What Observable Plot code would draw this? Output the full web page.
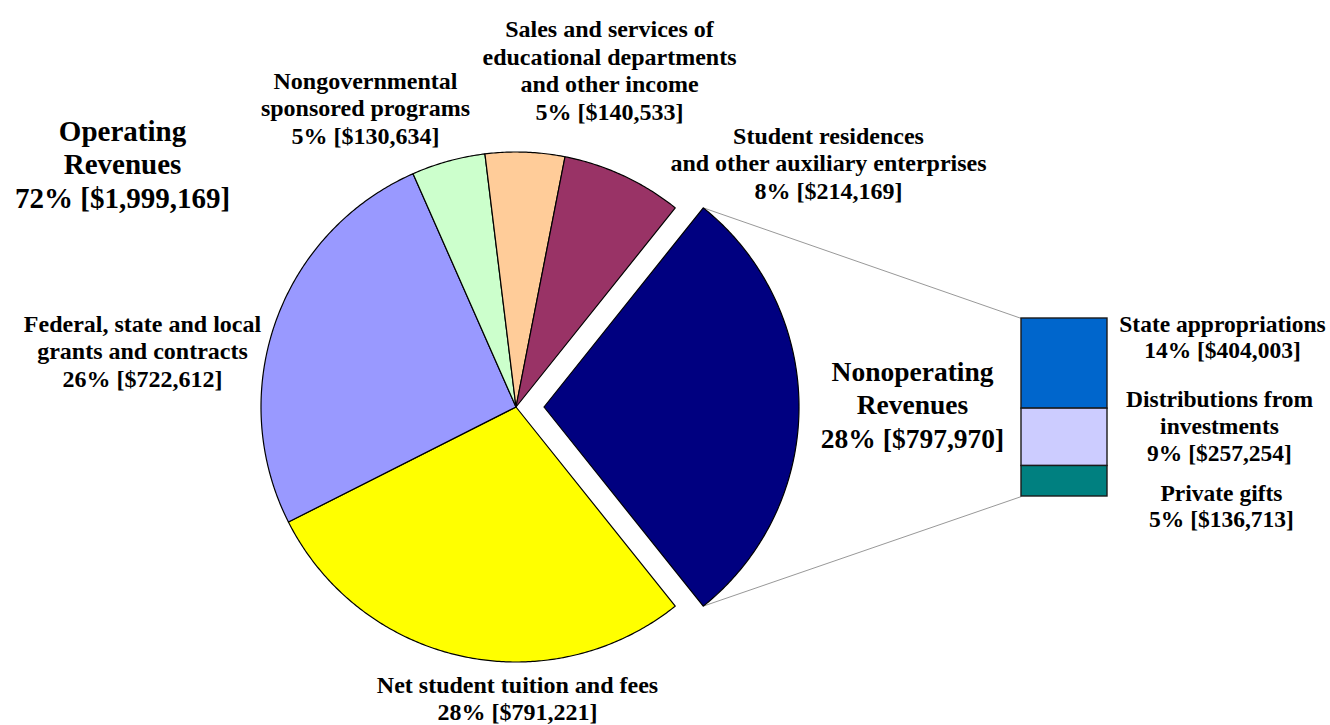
<!DOCTYPE html>
<html>
<head>
<meta charset="utf-8">
<script src="https://cdn.jsdelivr.net/npm/d3@7"></script>
<script src="https://cdn.jsdelivr.net/npm/@observablehq/plot@0.6"></script>
<style>
  html, body { margin: 0; padding: 0; background: #ffffff; }
  #chart svg text, #chart svg tspan { font-family: "Liberation Serif", "Times New Roman", Times, serif !important; }
</style>
</head>
<body>
<div id="chart"></div>
<script>
// ---------------- DATA ----------------
// Pie slices, clockwise starting with the exploded "Nonoperating" slice
const pieCategories = [
  "Nonoperating Revenues",
  "Net student tuition and fees",
  "Federal, state and local\ngrants and contracts",
  "Nongovernmental\nsponsored programs",
  "Sales and services of\neducational departments\nand other income",
  "Student residences\nand other auxiliary enterprises"
];
const pieValues = [797970, 791221, 722612, 130634, 140533, 214169];
const piePercents = [28, 28, 26, 5, 5, 8];

// Bar of pie: breakdown of Nonoperating Revenues
const barCategories = ["State appropriations", "Distributions from\ninvestments", "Private gifts"];
const barValues = [404003, 257254, 136713];
const barPercents = [14, 9, 5];

// Group headings
const groupNames = ["Operating\nRevenues", "Nonoperating\nRevenues"];
const groupPercents = [72, 28];

// ---------------- STYLES ----------------
const pieColors = ["#000080", "#FFFF00", "#9999FF", "#CCFFCC", "#FFCC99", "#993366"];
const barColors = ["#0066CC", "#CCCCFF", "#008080"];

// ---------------- LAYOUT ----------------
const W = 1330, H = 725;
const cx = 515.5, cy = 406.5, R = 255, explode = 28;
const barX1 = 1021, barX2 = 1107, barTop = 318, barH = 178;
const pieLabelPos = [null, [517, 697], [142, 350], [365, 107], [609, 69], [828, 162]];
const barLabelPos = [[1222, 336], [1219, 425], [1221, 505]];
const groupLabelPos = [[122, 163], [912, 403]];
const groupFontSize = [29, 27.5];

// ---------------- COMPUTE ----------------
const fmt = d3.format(",");
const nonopValue = pieValues[0];
const total = d3.sum(pieValues);
const nonopSpan = nonopValue / total * 2 * Math.PI;
const start = Math.PI / 2 - nonopSpan / 2;
const arcs = d3.pie().sort(null).startAngle(start).endAngle(start + 2 * Math.PI)(pieValues);

const step = Math.PI / 360;
const slices = arcs.map((a, i) => {
  const mid = (a.startAngle + a.endAngle) / 2;
  const off = i === 0 ? explode : 0;
  const ox = cx + off * Math.sin(mid), oy = cy - off * Math.cos(mid);
  const pts = [{x: ox, y: oy}];
  const n = Math.max(2, Math.ceil((a.endAngle - a.startAngle) / step));
  for (let k = 0; k <= n; k++) {
    const t = a.startAngle + (a.endAngle - a.startAngle) * k / n;
    pts.push({x: ox + R * Math.sin(t), y: oy - R * Math.cos(t)});
  }
  pts.push({x: ox, y: oy});
  return {pts, color: pieColors[i], ox, oy, a};
});

// stacked bar
const barTotal = d3.sum(barValues);
const cum = [0, ...d3.cumsum(barValues)];
const barRects = barValues.map((v, i) => ({
  y1: barTop + cum[i] / barTotal * barH,
  y2: barTop + cum[i + 1] / barTotal * barH,
  color: barColors[i]
}));

// connector lines from the exploded slice to the bar
const ex = slices[0];
const connectors = [
  {x1: ex.ox + R * Math.sin(ex.a.startAngle), y1: ex.oy - R * Math.cos(ex.a.startAngle), x2: barX1, y2: barTop},
  {x1: ex.ox + R * Math.sin(ex.a.endAngle), y1: ex.oy - R * Math.cos(ex.a.endAngle), x2: barX1, y2: barTop + barH}
];

// labels
const pieLabels = pieCategories.map((c, i) => i === 0 ? null : ({
  x: pieLabelPos[i][0], y: pieLabelPos[i][1],
  text: `${c}\n${piePercents[i]}% [$${fmt(pieValues[i])}]`
})).filter(d => d);
const barLabels = barCategories.map((c, i) => ({
  x: barLabelPos[i][0], y: barLabelPos[i][1],
  text: `${c}\n${barPercents[i]}% [$${fmt(barValues[i])}]`
}));
const operatingTotal = d3.sum(pieValues.slice(1));
const groupTotals = [operatingTotal, d3.sum(barValues)];
const groupLabels = groupNames.map((g, i) => ({
  x: groupLabelPos[i][0], y: groupLabelPos[i][1], size: groupFontSize[i],
  text: `${g}\n${groupPercents[i]}% [$${fmt(groupTotals[i])}]`
}));

const font = "Liberation Serif";

const marks = [
  Plot.link(connectors, {x1: "x1", y1: "y1", x2: "x2", y2: "y2", stroke: "#8c8c8c", strokeWidth: 0.9}),
  ...slices.map(s => Plot.line(s.pts, {x: "x", y: "y", fill: s.color, stroke: "#000", strokeWidth: 1.2, strokeLinejoin: "round"})),
  Plot.rect(barRects, {x1: () => barX1, x2: () => barX2, y1: "y1", y2: "y2", fill: "color", stroke: "#1a1a1a", strokeWidth: 1.4}),
  Plot.text(pieLabels, {x: "x", y: "y", text: "text", fontFamily: font, fontWeight: "bold", fontSize: 24, lineHeight: 1.15, fill: "#000"}),
  Plot.text(barLabels, {x: "x", y: "y", text: "text", fontFamily: font, fontWeight: "bold", fontSize: 23.5, lineHeight: 1.14, fill: "#000"}),
  ...groupLabels.map(g => Plot.text([g], {x: "x", y: "y", text: "text", fontFamily: font, fontWeight: "bold", fontSize: g.size, lineHeight: 33.5 / g.size, fill: "#000"}))
];

const chart = Plot.plot({
  width: W, height: H,
  margin: 0,
  x: {domain: [0, W], range: [0, W], axis: null},
  y: {domain: [0, H], range: [0, H], axis: null},
  color: {type: "identity"},
  style: {background: "#ffffff", overflow: "visible"},
  marks
});
document.getElementById("chart").appendChild(chart);
</script>
</body>
</html>
